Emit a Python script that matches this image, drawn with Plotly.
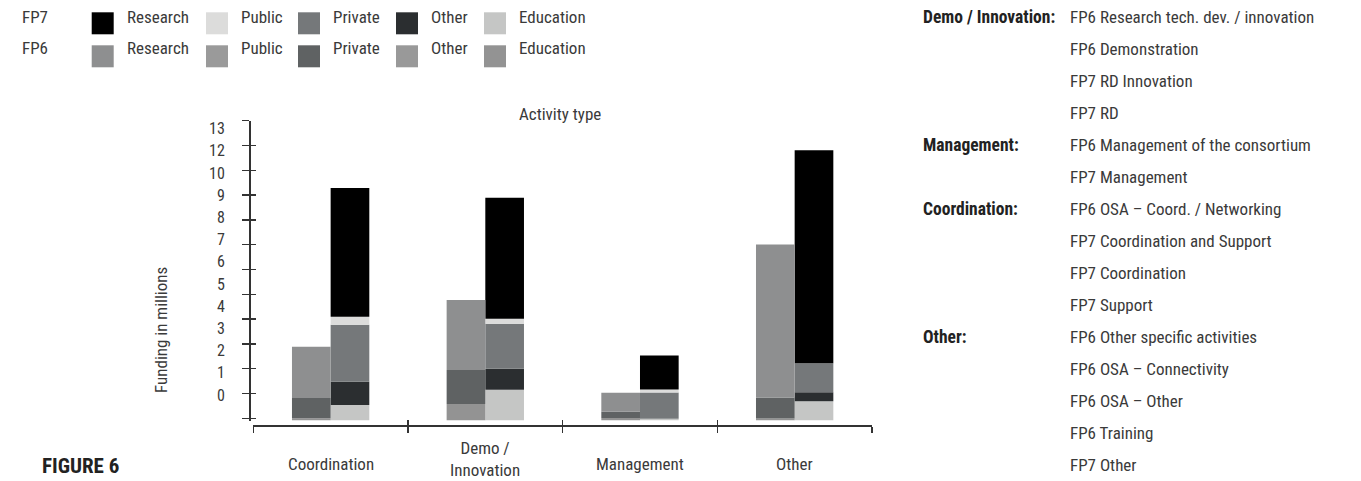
import plotly.graph_objects as go

# ---------------- data ----------------
categories = ["Coordination", "Demo /<br>Innovation", "Management", "Other"]
legend_names = ["Research", "Public", "Private", "Other", "Education"]

fp7_research = [5.19, 4.88, 1.37, 8.59]
fp7_public = [0.32, 0.20, 0.12, 0.00]
fp7_private = [2.30, 1.81, 1.06, 1.17]
fp7_other = [0.93, 0.85, 0.00, 0.36]
fp7_education = [0.63, 1.24, 0.07, 0.78]

fp6_research = [2.06, 2.82, 0.77, 6.17]
fp6_public = [0.00, 0.00, 0.00, 0.00]
fp6_private = [0.82, 1.37, 0.25, 0.85]
fp6_other = [0.00, 0.00, 0.00, 0.00]
fp6_education = [0.09, 0.67, 0.10, 0.08]

y_tick_labels = ["0", "1", "2", "3", "4", "5", "6", "7", "8", "9", "10", "12", "13"]

group_labels = ["Demo / Innovation:", "Management:", "Coordination:", "Other:"]
group_items = [
    ["FP6 Research tech. dev. / innovation", "FP6 Demonstration", "FP7 RD Innovation", "FP7 RD"],
    ["FP6 Management of the consortium", "FP7 Management"],
    ["FP6 OSA \u2013 Coord. / Networking", "FP7 Coordination and Support", "FP7 Coordination", "FP7 Support"],
    ["FP6 Other specific activities", "FP6 OSA \u2013 Connectivity", "FP6 OSA \u2013 Other", "FP6 Training", "FP7 Other"],
]

# ---------------- styles ----------------
W, H = 1361, 481
FONT = "Liberation Sans Narrow, Roboto Condensed, DejaVu Sans Condensed, Arial Narrow, sans-serif"
TXT = "#3a3a3a"
AX = "#333333"

fp7_colors = {"Research": "#000000", "Public": "#dcdcdb", "Private": "#75787a",
              "Other": "#2b2e30", "Education": "#c5c6c5"}
fp6_colors = {"Research": "#8e8f90", "Public": "#9a9a9a", "Private": "#5f6263",
              "Other": "#999999", "Education": "#939393"}

fp7 = {"Research": fp7_research, "Public": fp7_public, "Private": fp7_private,
       "Other": fp7_other, "Education": fp7_education}
fp6 = {"Research": fp6_research, "Public": fp6_public, "Private": fp6_private,
       "Other": fp6_other, "Education": fp6_education}
stack_order = ["Education", "Other", "Private", "Public", "Research"]


def fx(px):
    return px / W


def fy(py):
    return 1 - py / H


Y_TOP, Y_BASE, UNIT = 120.7, 420.5, 24.8
Y_TICK0 = 418.3
LBL0, LBL_STEP = 395.0, 22.2
X_LEFT, X_RIGHT, X_LINE, Y_LINE_X = 253.3, 872.0, 426.0, 249.0
BAR_W = 0.25

fig = go.Figure()
n = len(categories)
x6 = [i - BAR_W / 2 for i in range(n)]
x7 = [i + BAR_W / 2 for i in range(n)]
# FP6 bars on the overlay axes (identical ranges) so that their inner ticks are drawn
for name in stack_order:
    fig.add_trace(go.Bar(x=x6, y=fp6[name], width=BAR_W, name="FP6 " + name,
                         marker=dict(color=fp6_colors[name], line=dict(width=0)),
                         xaxis="x2", yaxis="y3", showlegend=False, hoverinfo="skip"))
for name in stack_order:
    fig.add_trace(go.Bar(x=x7, y=fp7[name], width=BAR_W, name="FP7 " + name,
                         marker=dict(color=fp7_colors[name], line=dict(width=0)),
                         xaxis="x", yaxis="y", showlegend=False, hoverinfo="skip"))
# empty carrier trace so that the tick-label axis is rendered
fig.add_trace(go.Scatter(x=[], y=[], xaxis="x", yaxis="y2", mode="markers",
                         showlegend=False, hoverinfo="skip"))

y_dom = [fy(Y_BASE), fy(Y_TOP)]
y_rng = [0, (Y_BASE - Y_TOP) / UNIT]
tick_off = (Y_BASE - Y_TICK0) / UNIT
y_ticks = [tick_off + k for k in range(13)]
x_dom = [fx(X_LEFT), fx(X_RIGHT)]
x_rng = [-0.5, n - 0.5]
x_ticks = [i - 0.5 for i in range(n + 1)]

common_y = dict(domain=y_dom, range=y_rng, anchor="free", position=fx(Y_LINE_X),
                showgrid=False, zeroline=False, fixedrange=True)
common_x = dict(domain=x_dom, range=x_rng, anchor="free", position=fy(X_LINE),
                showgrid=False, zeroline=False, fixedrange=True)

fig.update_layout(
    width=W, height=H, margin=dict(l=0, r=0, t=0, b=0),
    paper_bgcolor="white", plot_bgcolor="rgba(0,0,0,0)",
    barmode="relative", showlegend=False, hovermode=False,
    font=dict(family=FONT, size=18, color=TXT),
    xaxis=dict(**common_x, showline=True, linecolor=AX, linewidth=2,
               tickmode="array", tickvals=x_ticks, ticks="outside", ticklen=6,
               tickwidth=1.5, tickcolor=AX, showticklabels=False),
    xaxis2=dict(**common_x, overlaying="x", showline=False,
                tickmode="array", tickvals=x_ticks, ticks="inside", ticklen=6,
                tickwidth=1.5, tickcolor=AX, showticklabels=False),
    yaxis=dict(**common_y, showline=True, linecolor=AX, linewidth=1.5,
               tickmode="array", tickvals=y_ticks, ticks="outside", ticklen=7,
               tickwidth=1.5, tickcolor=AX, showticklabels=False),
    yaxis3=dict(**common_y, overlaying="y", showline=False,
                tickmode="array", tickvals=y_ticks, ticks="inside", ticklen=6,
                tickwidth=1.5, tickcolor=AX, showticklabels=False),
    yaxis2=dict(domain=y_dom, anchor="free", position=fx(Y_LINE_X), overlaying="y",
                range=[(LBL0 - Y_BASE) / LBL_STEP, (LBL0 - Y_TOP) / LBL_STEP],
                showgrid=False, zeroline=False, showline=False, fixedrange=True,
                tickmode="array", tickvals=list(range(len(y_tick_labels))),
                ticktext=y_tick_labels, ticks="outside", ticklen=21,
                tickcolor="rgba(0,0,0,0)", tickfont=dict(size=16, color=TXT)),
)

ann = []
shapes = []
# category labels
for i, c in enumerate(categories):
    two_line = "<br>" in c
    ann.append(dict(x=i, xref="x", y=fy(459 if two_line else 464), yref="paper", text=c,
                    showarrow=False, xanchor="center", yanchor="middle", align="center",
                    font=dict(size=17, color=TXT)))
# axis titles
ann.append(dict(x=fx(560), y=fy(114), xref="paper", yref="paper", text="Activity type",
                showarrow=False, xanchor="center", yanchor="middle", font=dict(size=17, color=TXT)))
ann.append(dict(x=fx(161), y=fy(330), xref="paper", yref="paper", text="Funding in millions",
                textangle=-90, showarrow=False, xanchor="center", yanchor="middle",
                font=dict(size=17, color=TXT)))
ann.append(dict(x=fx(40), y=fy(466), xref="paper", yref="paper", text="<b>FIGURE 6</b>",
                showarrow=False, xanchor="left", yanchor="middle", font=dict(size=21, color="#222222")))

# legend (two rows)
sq_x = [91.7, 206.0, 298.0, 396.0, 484.0]
for r, (row_name, cols) in enumerate([("FP7", fp7_colors), ("FP6", fp6_colors)]):
    sq_top = 12.3 + 33 * r
    txt_y = 17 + 31 * r
    ann.append(dict(x=fx(20), y=fy(txt_y), xref="paper", yref="paper", text=row_name,
                    showarrow=False, xanchor="left", yanchor="middle", font=dict(size=17, color=TXT)))
    for j, name in enumerate(legend_names):
        shapes.append(dict(type="rect", xref="paper", yref="paper",
                           x0=fx(sq_x[j]), x1=fx(sq_x[j] + 22), y0=fy(sq_top + 22), y1=fy(sq_top),
                           fillcolor=cols[name], line=dict(width=0)))
        ann.append(dict(x=fx(sq_x[j] + 33), y=fy(txt_y), xref="paper", yref="paper", text=name,
                        showarrow=False, xanchor="left", yanchor="middle", font=dict(size=17, color=TXT)))

# right-hand key
row = 0
for g, items in zip(group_labels, group_items):
    ann.append(dict(x=fx(921), y=fy(17 + 32 * row), xref="paper", yref="paper",
                    text="<b>" + g + "</b>", showarrow=False, xanchor="left", yanchor="middle",
                    font=dict(size=17.5, color="#222222")))
    for it in items:
        ann.append(dict(x=fx(1068), y=fy(17 + 32 * row), xref="paper", yref="paper", text=it,
                        showarrow=False, xanchor="left", yanchor="middle",
                        font=dict(size=17, color=TXT)))
        row += 1

fig.update_layout(annotations=ann, shapes=shapes)

fig.write_html("out.html", config={"displayModeBar": False, "staticPlot": True},
               post_script="document.body.style.margin='0';document.body.style.overflow='hidden';")
